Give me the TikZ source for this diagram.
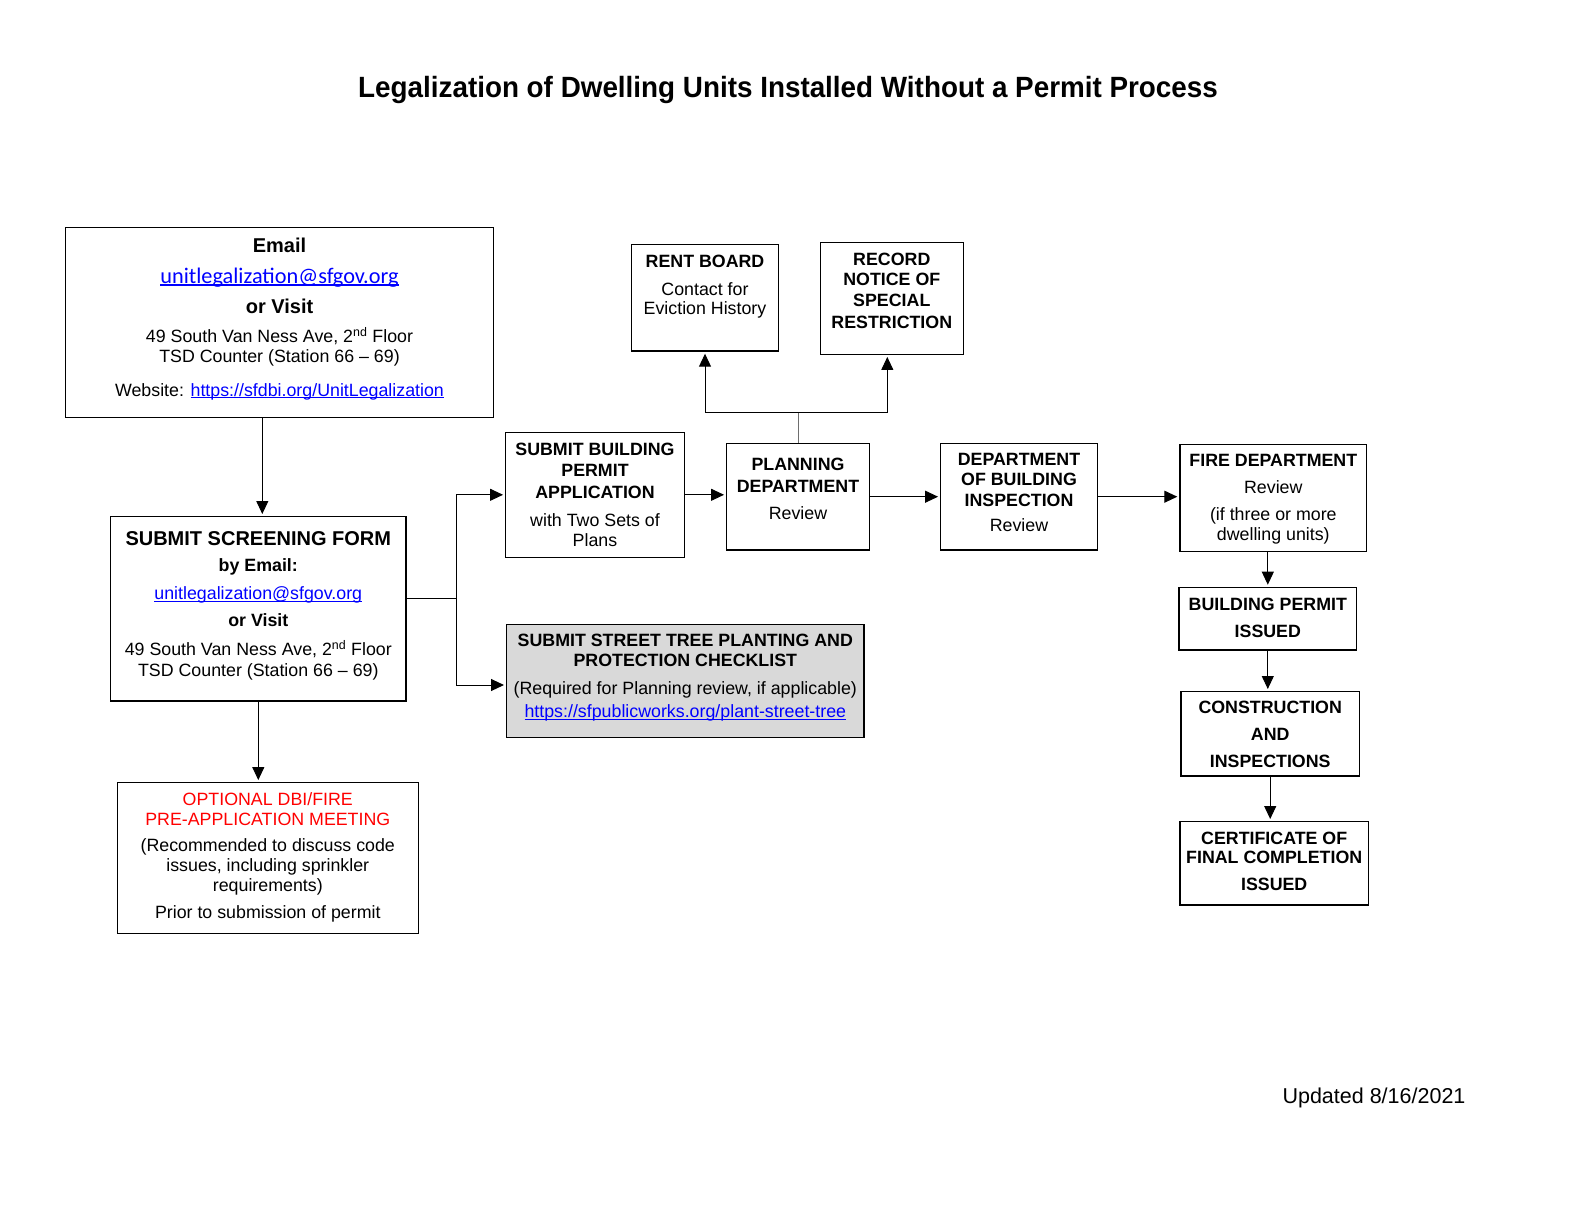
\documentclass[tikz,border=0pt]{standalone}
\usepackage{fontspec}
\setmainfont{Liberation Sans}
\newfontfamily\calibri{Carlito}
\newfontfamily\titlefont[FakeStretch=0.95]{Liberation Sans}
\usepackage{xcolor}
\usetikzlibrary{arrows.meta,positioning,calc}
\definecolor{linkblue}{RGB}{0,0,255}
\definecolor{treegray}{RGB}{217,217,217}
\definecolor{stemgray}{RGB}{110,110,110}

\newsavebox\linkbox
\newcommand{\weblink}[1]{\leavevmode{\color{linkblue}\sbox\linkbox{#1}\rlap{\rule[-0.11em]{\wd\linkbox}{0.065em}}\usebox\linkbox}}
\newcommand{\boxtext}[4]{\parbox[c][#2bp][t]{#1bp}{\centering\rule{0pt}{#3bp}#4}}

\begin{document}
\begin{tikzpicture}[
    x=1bp, y=-1bp,
    stage/.style={rectangle, draw, line width=1.3bp, inner sep=0pt, font=\fontsize{17.8bp}{20bp}\selectfont},
    arrow/.style={-{Triangle[length=13bp,width=12bp]}, line width=1bp, shorten >=2bp},
    link/.style={line width=1bp}
]
\useasboundingbox (0,0) rectangle (1574,1217);

% Title
\node[anchor=base, font=\titlefont\bfseries\fontsize{29.3bp}{30bp}\selectfont] (title) at (788,97) {Legalization of Dwelling Units Installed Without a Permit Process};

% Contact box
\node[stage] (contact) at (279.5,322.3) {\boxtext{427.6}{190}{25}{%
    {\bfseries\fontsize{20bp}{20bp}\selectfont Email}\\[11bp]
    {\calibri\fontsize{22.3bp}{20bp}\selectfont\weblink{unitlegalization@sfgov.org}}\\[10bp]
    {\bfseries\fontsize{20bp}{20bp}\selectfont or Visit}\\[9bp]
    49 South Van Ness Ave, 2\textsuperscript{nd} Floor\\
    TSD Counter (Station 66 -- 69)\\[14bp]
    Website: \weblink{https://sfdbi.org/UnitLegalization}}};

% Screening form
\node[stage] (screen) at (258.3,608.8) {\boxtext{295.3}{184.3}{29}{%
    {\bfseries\fontsize{20bp}{20bp}\selectfont SUBMIT SCREENING FORM}\\[6bp]
    \textbf{by Email:}\\[8.3bp]
    \weblink{unitlegalization@sfgov.org}\\[6.7bp]
    \textbf{or Visit}\\[9bp]
    49 South Van Ness Ave, 2\textsuperscript{nd} Floor\\[1bp]
    TSD Counter (Station 66 -- 69)}};

% Optional meeting
\node[stage] (premeet) at (267.8,858) {\boxtext{301}{150.6}{22.3}{%
    \textcolor{red}{OPTIONAL DBI/FIRE}\\
    \textcolor{red}{PRE-APPLICATION MEETING}\\[6bp]
    (Recommended to discuss code\\[0.7bp]
    issues, including sprinkler\\
    requirements)\\[6.6bp]
    Prior to submission of permit}};

% Permit application and street tree checklist
\node[stage] (apply) at (595,494.8) {\boxtext{178.6}{125}{22.7}{%
    \textbf{SUBMIT BUILDING}\\[1.7bp]
    \textbf{PERMIT}\\[1.6bp]
    \textbf{APPLICATION}\\[8.4bp]
    with Two Sets of\\
    Plans}};
\node[stage, fill=treegray] (tree) at (685.3,681) {\boxtext{357.3}{113.4}{22.4}{%
    \textbf{SUBMIT STREET TREE PLANTING AND}\\
    \textbf{PROTECTION CHECKLIST}\\[8bp]
    (Required for Planning review, if applicable)\\[3bp]
    \weblink{https://sfpublicworks.org/plant-street-tree}}};

% Rent board and special restriction
\node[stage] (rent) at (705,297.7) {\boxtext{146.6}{106.7}{23}{%
    \textbf{RENT BOARD}\\[7.7bp]
    Contact for\\[-0.7bp]
    Eviction History}};
\node[stage] (record) at (891.8,298.3) {\boxtext{143}{112}{22.7}{%
    \textbf{RECORD}\\[0.7bp]
    \textbf{NOTICE OF}\\[1bp]
    \textbf{SPECIAL}\\[1.6bp]
    \textbf{RESTRICTION}}};

% Reviews
\node[stage] (planning) at (798,496.7) {\boxtext{142.6}{106.7}{27.4}{%
    \textbf{PLANNING}\\[1.6bp]
    \textbf{DEPARTMENT}\\[7bp]
    Review}};
\node[stage] (dbi) at (1019,496.7) {\boxtext{156.6}{106.7}{21.7}{%
    \textbf{DEPARTMENT}\\
    \textbf{OF BUILDING}\\[1.7bp]
    \textbf{INSPECTION}\\[5bp]
    Review}};
\node[stage] (fire) at (1273.3,498) {\boxtext{186.7}{107.4}{22.4}{%
    \textbf{FIRE DEPARTMENT}\\[6.6bp]
    Review\\[6.7bp]
    (if three or more\\
    dwelling units)}};

% Final steps
\node[stage] (issued) at (1267.8,618.7) {\boxtext{177.7}{62.7}{22.7}{%
    \textbf{BUILDING PERMIT}\\[7.7bp]
    \textbf{ISSUED}}};
\node[stage] (construct) at (1270.2,733.8) {\boxtext{178.3}{84.3}{22.3}{%
    \textbf{CONSTRUCTION}\\[6.7bp]
    \textbf{AND}\\[7bp]
    \textbf{INSPECTIONS}}};
\node[stage] (cert) at (1274.2,863.3) {\boxtext{188.3}{83.3}{22.6}{%
    \textbf{CERTIFICATE OF}\\[-1bp]
    \textbf{FINAL COMPLETION}\\[7.7bp]
    \textbf{ISSUED}}};

% Date
\node[anchor=base, font=\fontsize{21.5bp}{24bp}\selectfont] (updated) at (1374,1103) {Updated 8/16/2021};

% Branch points
\coordinate (fork) at (456,598.3);
\coordinate (split) at (798,412.7);

% Connectors
\draw[arrow] ($(contact.south -| screen.north)+(4,0)$) -- ($(screen.north)+(4,0)$);
\draw[arrow] (screen.south) -- (screen.south |- premeet.north);
\draw[link] (screen.east |- fork) -- (fork);
\draw[arrow] (fork) |- (apply.west);
\draw[arrow] (fork) |- ($(tree.west)+(0,4)$);
\draw[arrow] (apply.east) -- (apply.east -| planning.west);
\draw[link, stemgray] (planning.north) -- (split);
\draw[arrow] (split) -| (rent.south);
\draw[arrow] (split) -| ($(record.south)+(-4.5,0)$);
\draw[arrow] (planning.east) -- (planning.east -| dbi.west);
\draw[arrow] (dbi.east) -- (dbi.east -| fire.west);
\draw[arrow] (fire.south -| issued.north) -- (issued.north);
\draw[arrow] (issued.south) -- (issued.south |- construct.north);
\draw[arrow] (construct.south) -- (construct.south |- cert.north);

\end{tikzpicture}
\end{document}
